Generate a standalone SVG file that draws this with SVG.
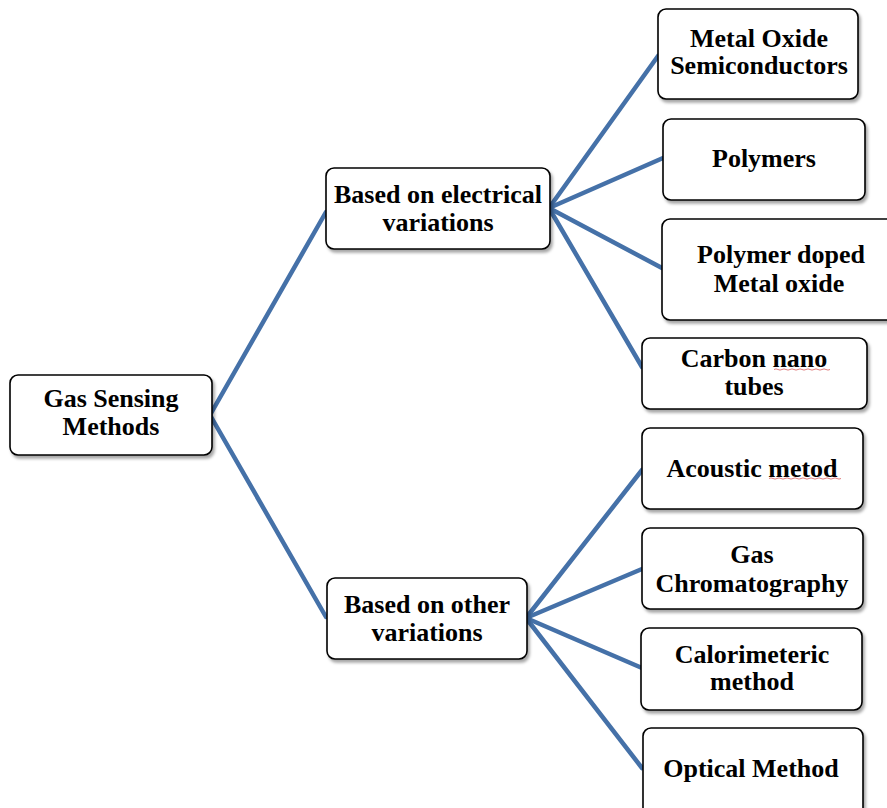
<svg xmlns="http://www.w3.org/2000/svg" width="887" height="808" viewBox="0 0 887 808">
  <defs>
    <filter id="sh" x="-10%" y="-10%" width="130%" height="140%">
      <feDropShadow dx="2" dy="3" stdDeviation="1.8" flood-color="#000" flood-opacity="0.35"/>
    </filter>
    <style>
      .box { fill: #ffffff; stroke: #000000; stroke-width: 1.6; filter: url(#sh); }
      .t { font-family: "Liberation Serif", "Times New Roman", serif; font-weight: bold; font-size: 26px; fill: #000; text-anchor: middle; }
      .c { stroke: #4571a8; stroke-width: 4.5; fill: none; stroke-linecap: round; }
      .sq { stroke: #e08080; stroke-width: 1; fill: none; }
    </style>
  </defs>
  <rect width="887" height="808" fill="#ffffff"/>

  <g id="connectors">
    <line class="c" x1="210" y1="415" x2="326" y2="212"/>
    <line class="c" x1="210" y1="415" x2="326" y2="617"/>
    <line class="c" x1="549" y1="208" x2="658" y2="56"/>
    <line class="c" x1="549" y1="208" x2="663" y2="158"/>
    <line class="c" x1="549" y1="208" x2="662" y2="268"/>
    <line class="c" x1="549" y1="208" x2="642" y2="367"/>
    <line class="c" x1="526" y1="618" x2="642" y2="470"/>
    <line class="c" x1="526" y1="618" x2="642" y2="569"/>
    <line class="c" x1="526" y1="618" x2="642" y2="668"/>
    <line class="c" x1="526" y1="618" x2="642" y2="768"/>
  </g>

  <g id="root">
    <rect class="box" x="10" y="375" width="202" height="80" rx="8"/>
    <text class="t" x="111" y="407">Gas Sensing</text>
    <text class="t" x="111" y="435">Methods</text>
  </g>

  <g id="electrical">
    <rect class="box" x="326" y="168" width="224" height="81" rx="8"/>
    <text class="t" x="438" y="203">Based on electrical</text>
    <text class="t" x="438" y="231">variations</text>
  </g>

  <g id="other">
    <rect class="box" x="327" y="578" width="200" height="81" rx="8"/>
    <text class="t" x="427" y="613">Based on other</text>
    <text class="t" x="427" y="641">variations</text>
  </g>

  <g id="metal-oxide">
    <rect class="box" x="658" y="9" width="200" height="90" rx="8"/>
    <text class="t" x="759" y="47">Metal Oxide</text>
    <text class="t" x="759" y="74">Semiconductors</text>
  </g>

  <g id="polymers">
    <rect class="box" x="663" y="119" width="202" height="81" rx="8"/>
    <text class="t" x="764" y="167">Polymers</text>
  </g>

  <g id="polymer-doped">
    <rect class="box" x="662" y="219" width="240" height="101" rx="8"/>
    <text class="t" x="781" y="263">Polymer doped</text>
    <text class="t" x="779" y="292">Metal oxide</text>
  </g>

  <g id="carbon">
    <rect class="box" x="642" y="338" width="225" height="71" rx="8"/>
    <text class="t" x="754" y="367">Carbon nano</text>
    <text class="t" x="754" y="395">tubes</text>
    <path class="sq" d="M774 369.5 q2 -1.2 4 0 t4 0 t4 0 t4 0 t4 0 t4 0 t4 0 t4 0 t4 0 t4 0 t4 0 t4 0 t4 0 t4 0"/>
  </g>

  <g id="acoustic">
    <rect class="box" x="642" y="428" width="221" height="81" rx="8"/>
    <text class="t" x="752" y="477">Acoustic metod</text>
    <path class="sq" d="M769 478.5 q2 -1.2 4 0 t4 0 t4 0 t4 0 t4 0 t4 0 t4 0 t4 0 t4 0 t4 0 t4 0 t4 0 t4 0 t4 0 t4 0 t4 0 t4 0 t4 0"/>
  </g>

  <g id="chromatography">
    <rect class="box" x="642" y="528" width="221" height="81" rx="8"/>
    <text class="t" x="752" y="563">Gas</text>
    <text class="t" x="752" y="592">Chromatography</text>
  </g>

  <g id="calorimeteric">
    <rect class="box" x="641" y="628" width="221" height="82" rx="8"/>
    <text class="t" x="752" y="663">Calorimeteric</text>
    <text class="t" x="752" y="690">method</text>
  </g>

  <g id="optical">
    <rect class="box" x="643" y="728" width="220" height="90" rx="8"/>
    <text class="t" x="751" y="777">Optical Method</text>
  </g>
</svg>
